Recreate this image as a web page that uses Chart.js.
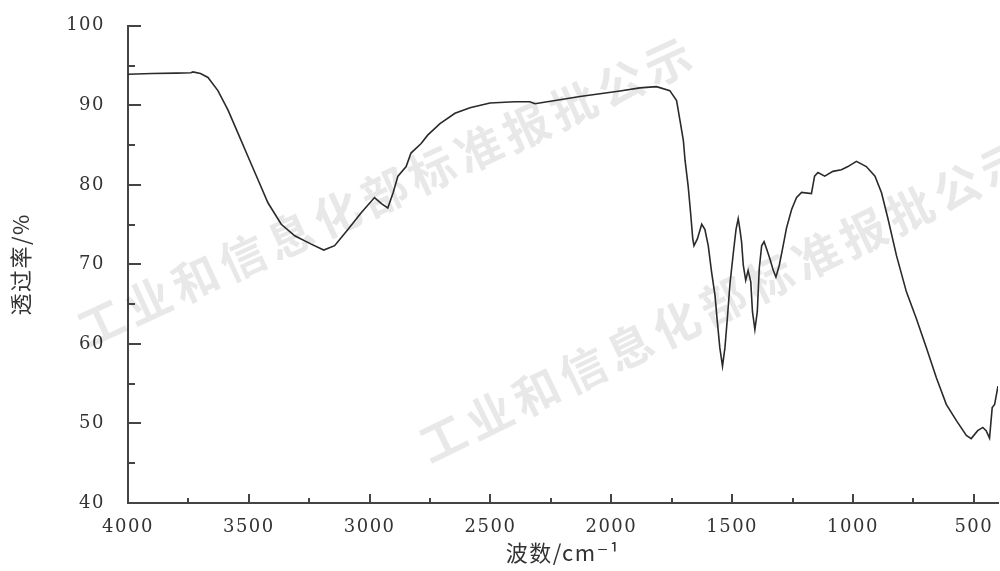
<!DOCTYPE html>
<html>
<head>
<meta charset="utf-8">
<script src="https://cdn.jsdelivr.net/npm/chart.js@4/dist/chart.umd.min.js"></script>
<style>
  body { margin: 0; background: #fff; }
  #wrap { width: 1000px; height: 571px; position: relative; }
</style>
</head>
<body>
<div id="wrap"><canvas id="myChart"></canvas></div>
<script>
// wavenumber (cm-1) and transmittance (%)
var wavenumbers = [4000, 3900, 3800, 3740, 3731, 3700, 3669, 3628, 3586, 3545, 3504, 3462, 3421, 3366, 3310, 3242, 3190, 3145, 3090, 3035,
  2980, 2950, 2925, 2903, 2883, 2849, 2829, 2787, 2760, 2709, 2647, 2585, 2502, 2400, 2337, 2316, 2213, 2130, 2047, 1964,
  1882, 1813, 1758, 1730, 1716, 1702, 1695, 1682, 1672, 1663, 1658, 1644, 1626, 1613, 1599, 1585, 1571, 1562, 1551, 1540,
  1530, 1520, 1509, 1495, 1484, 1475, 1468, 1461, 1454, 1444, 1434, 1423, 1416, 1406, 1396, 1388, 1378, 1368, 1357, 1344,
  1330, 1319, 1305, 1289, 1275, 1254, 1234, 1213, 1172, 1159, 1145, 1117, 1083, 1048, 1021, 986, 945, 909, 882, 855,
  820, 779, 738, 696, 655, 614, 572, 531, 511, 484, 463, 449, 435, 424, 414, 400];
var transmittance = [93.9, 94.0, 94.05, 94.1, 94.2, 94.0, 93.5, 91.85, 89.4, 86.5, 83.6, 80.65, 77.75, 75.05, 73.6, 72.55, 71.8, 72.35, 74.4, 76.5,
  78.4, 77.6, 77.1, 79.0, 81.1, 82.3, 84.0, 85.2, 86.25, 87.7, 89.0, 89.7, 90.3, 90.45, 90.45, 90.2, 90.7, 91.1, 91.45, 91.8,
  92.2, 92.35, 91.85, 90.6, 88.1, 85.6, 83.1, 79.8, 76.5, 73.2, 72.35, 73.2, 75.05, 74.4, 72.35, 69.0, 66.1, 63.0, 59.5, 57.2,
  59.5, 63.2, 67.6, 71.5, 74.4, 75.75, 74.4, 72.8, 69.9, 68.0, 69.25, 67.8, 64.05, 61.8, 64.05, 69.45, 72.35, 72.85, 71.9, 70.7,
  69.25, 68.4, 69.9, 72.35, 74.6, 76.9, 78.4, 79.05, 78.9, 81.1, 81.55, 81.1, 81.7, 81.9, 82.3, 82.95, 82.3, 81.1, 79.0, 75.7,
  71.1, 66.55, 63.2, 59.5, 55.75, 52.4, 50.35, 48.5, 48.1, 49.1, 49.5, 49.1, 48.15, 52.0, 52.4, 54.7];

var xMajorTicks = [4000, 3500, 3000, 2500, 2000, 1500, 1000, 500];
var xMinorTicks = [3750, 3250, 2750, 2250, 1750, 1250, 750];
var yMajorTicks = [40, 50, 60, 70, 80, 90, 100];
var yMinorTicks = [45, 55, 65, 75, 85, 95];

var xTitle = '波数/cm\u207B\u00B9';
var yTitle = '透过率/%';
var watermark = '工业和信息化部标准报批公示';

var axisColor = '#444';
var serif = "'DejaVu Serif', 'Liberation Serif', serif";

var points = wavenumbers.map(function (w, i) { return { x: w, y: transmittance[i] }; });

// faint watermark text behind the curve
var watermarkPlugin = {
  id: 'watermark',
  beforeDatasetsDraw: function (chart) {
    var ctx = chart.ctx;
    ctx.save();
    ctx.letterSpacing = '6px';
    ctx.fillStyle = 'rgba(0,0,0,0.09)';
    ctx.font = "bold 46px 'Noto Sans CJK SC'";
    ctx.textBaseline = 'middle';
    ctx.textAlign = 'left';
    [[80, 332, -24.7], [422, 448, -26]].forEach(function (m) {
      ctx.save();
      ctx.translate(m[0], m[1]);
      ctx.rotate(m[2] * Math.PI / 180);
      ctx.fillText(watermark, 0, 0);
      ctx.restore();
    });
    ctx.restore();
  }
};

// inward tick marks on both axes
var tickPlugin = {
  id: 'innerTicks',
  afterDraw: function (chart) {
    var ctx = chart.ctx, xs = chart.scales.x, ys = chart.scales.y;
    var area = chart.chartArea;
    ctx.save();
    ctx.strokeStyle = axisColor;
    ctx.lineWidth = 2;
    function xt(v, len) {
      var px = Math.round(xs.getPixelForValue(v));
      ctx.beginPath(); ctx.moveTo(px, area.bottom); ctx.lineTo(px, area.bottom - len); ctx.stroke();
    }
    function yt(v, len) {
      var py = Math.round(ys.getPixelForValue(v));
      ctx.beginPath(); ctx.moveTo(area.left, py); ctx.lineTo(area.left + len, py); ctx.stroke();
    }
    xMajorTicks.forEach(function (v) { if (v !== 4000) xt(v, 9); });
    xMinorTicks.forEach(function (v) { xt(v, 5); });
    yMajorTicks.forEach(function (v) { if (v !== 40) yt(v, 13); });
    yMinorTicks.forEach(function (v) { yt(v, 7); });
    ctx.restore();
  }
};

var spacingPlugin = {
  id: 'spacing',
  beforeDraw: function (chart) { chart.ctx.letterSpacing = '1.5px'; }
};

function plain(v) { return String(v); }

var ctx = document.getElementById('myChart');
var myChart = new Chart(ctx, {
  type: 'line',
  data: {
    datasets: [{
      data: points,
      borderColor: '#2a2a2a',
      borderWidth: 1.6,
      pointRadius: 0,
      tension: 0,
      fill: false
    }]
  },
  options: {
    responsive: true,
    maintainAspectRatio: false,
    animation: false,
    layout: { padding: { top: 21, right: 2, left: 0, bottom: 0 } },
    plugins: { legend: { display: false }, tooltip: { enabled: false } },
    scales: {
      x: {
        type: 'linear',
        reverse: true,
        min: 400,
        max: 4000,
        afterFit: function (s) { s.height = 68; },
        afterBuildTicks: function (s) { s.ticks = xMajorTicks.map(function (v) { return { value: v }; }); },
        grid: { display: false },
        border: { display: true, color: axisColor, width: 2 },
        ticks: {
          color: '#333',
          padding: 6,
          maxRotation: 0,
          autoSkip: false,
          callback: plain,
          font: { family: serif, size: 18 }
        },
        title: {
          display: true,
          text: xTitle,
          color: '#333',
          padding: { top: 0, bottom: 5 },
          font: { family: "'Noto Sans CJK SC', " + serif, size: 22 }
        }
      },
      y: {
        min: 40,
        max: 100,
        afterFit: function (s) { s.width = 128; },
        afterBuildTicks: function (s) { s.ticks = yMajorTicks.map(function (v) { return { value: v }; }); },
        grid: { display: false },
        border: { display: true, color: axisColor, width: 2 },
        ticks: {
          color: '#333',
          padding: 15,
          autoSkip: false,
          callback: plain,
          font: { family: serif, size: 18 }
        },
        title: {
          display: true,
          text: yTitle,
          color: '#333',
          padding: { top: 7, bottom: 0 },
          font: { family: "'Noto Sans CJK SC', " + serif, size: 22 }
        }
      }
    }
  },
  plugins: [spacingPlugin, watermarkPlugin, tickPlugin]
});
</script>
</body>
</html>
